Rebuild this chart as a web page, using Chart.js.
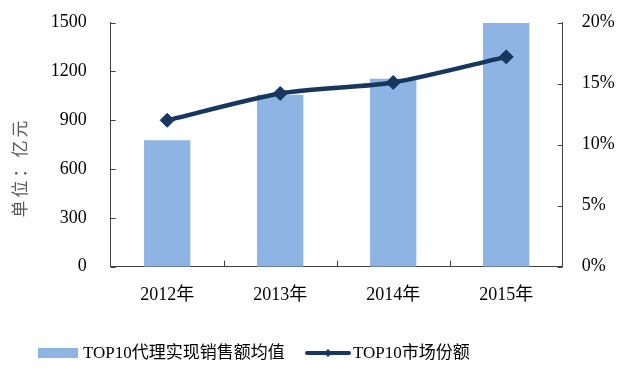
<!DOCTYPE html>
<html>
<head>
<meta charset="utf-8">
<script src="https://cdn.jsdelivr.net/npm/chart.js@4"></script>
<style>
html,body{margin:0;padding:0;background:#fff;}
#wrap{width:643px;height:379px;position:relative;}
</style>
</head>
<body>
<div id="wrap"><canvas id="c" width="643" height="379"></canvas></div>
<script>
const categories = ['2012年', '2013年', '2014年', '2015年'];
const salesAvg = [777, 1057, 1156, 1500];
const marketShare = [12.0, 14.2, 15.1, 17.2];
const leftTicks = [0, 300, 600, 900, 1200, 1500];
const rightTicks = [0, 5, 10, 15, 20];
const barLabel = 'TOP10代理实现销售额均值';
const lineLabel = 'TOP10市场份额';
const yTitle = '单位：亿元';

const FONT = "'Liberation Serif', 'Times New Roman', 'Noto Sans CJK SC', serif";
const BAR_COLOR = '#8EB4E3';
const LINE_COLOR = '#17375E';
const AXIS_COLOR = '#404040';

const decorPlugin = {
  id: 'decor',
  afterDraw(chart) {
    const ctx = chart.ctx;
    const ca = chart.chartArea;
    const x = chart.scales.x, y = chart.scales.y, y1 = chart.scales.y1;
    ctx.save();
    ctx.strokeStyle = AXIS_COLOR;
    ctx.lineWidth = 1;
    ctx.beginPath();
    leftTicks.forEach(v => {
      const py = Math.round(y.getPixelForValue(v)) + 0.5;
      ctx.moveTo(ca.left, py); ctx.lineTo(ca.left + 5, py);
    });
    rightTicks.forEach(v => {
      const py = Math.round(y1.getPixelForValue(v)) + 0.5;
      ctx.moveTo(ca.right, py); ctx.lineTo(ca.right - 5, py);
    });
    for (let i = 1; i < categories.length; i++) {
      const px = Math.round(x.getPixelForValue(i - 0.5)) + 0.5;
      ctx.moveTo(px, ca.bottom); ctx.lineTo(px, ca.bottom - 6);
    }
    ctx.stroke();

    // y title
    ctx.save();
    ctx.translate(22, 167.5);
    ctx.rotate(-Math.PI / 2);
    ctx.fillStyle = '#595959';
    ctx.font = "17px " + FONT;
    try { ctx.letterSpacing = '3px'; } catch (e) {}
    ctx.textAlign = 'center';
    ctx.textBaseline = 'middle';
    ctx.fillText(yTitle, 0, 0);
    ctx.restore();

    // legend
    const ly = 353;
    const ds = chart.data.datasets;
    ctx.font = "17px " + FONT;
    ctx.textBaseline = 'middle';
    ctx.textAlign = 'left';
    ctx.fillStyle = ds[1].backgroundColor;
    ctx.fillRect(38, ly - 5, 40, 10);
    ctx.fillStyle = '#000';
    ctx.fillText(ds[1].label, 83, ly + 1);

    ctx.strokeStyle = ds[0].borderColor;
    ctx.lineWidth = 4;
    ctx.lineCap = 'round';
    ctx.beginPath();
    ctx.moveTo(307, ly); ctx.lineTo(349, ly);
    ctx.stroke();
    ctx.fillStyle = ds[0].borderColor;
    ctx.beginPath();
    ctx.moveTo(328, ly - 4); ctx.lineTo(332, ly); ctx.lineTo(328, ly + 4); ctx.lineTo(324, ly);
    ctx.closePath(); ctx.fill();
    ctx.fillStyle = '#000';
    ctx.fillText(ds[0].label, 353, ly + 1);
    ctx.restore();
  }
};

new Chart(document.getElementById('c'), {
  type: 'bar',
  data: {
    labels: categories,
    datasets: [
      {
        type: 'line',
        label: lineLabel,
        data: marketShare,
        yAxisID: 'y1',
        borderColor: LINE_COLOR,
        backgroundColor: LINE_COLOR,
        borderWidth: 4.5,
        tension: 0.25,
        pointStyle: 'rectRot',
        pointRadius: 7,
        pointBackgroundColor: LINE_COLOR,
        pointBorderColor: LINE_COLOR,
        pointBorderWidth: 1,
        order: 0,
        clip: false
      },
      {
        type: 'bar',
        label: barLabel,
        data: salesAvg,
        yAxisID: 'y',
        backgroundColor: BAR_COLOR,
        borderWidth: 0,
        barPercentage: 0.41,
        categoryPercentage: 1,
        order: 1
      }
    ]
  },
  options: {
    responsive: false,
    animation: false,
    devicePixelRatio: 1,
    layout: { padding: { left: 0, right: 0, top: 22.7, bottom: 0 } },
    plugins: { legend: { display: false }, tooltip: { enabled: false } },
    scales: {
      x: {
        grid: { display: false, drawTicks: false },
        border: { display: true, color: AXIS_COLOR, width: 1 },
        ticks: { color: '#000', font: { size: 18, family: FONT }, padding: 18, maxRotation: 0 },
        afterFit(s) { s.height = 112.3; }
      },
      y: {
        position: 'left',
        min: 0, max: 1500,
        afterBuildTicks(s) { s.ticks = leftTicks.map(v => ({ value: v })); },
        grid: { display: false, drawTicks: false },
        border: { display: true, color: AXIS_COLOR, width: 1 },
        ticks: { color: '#000', font: { size: 18, family: FONT }, padding: 24, callback: v => String(v) },
        afterFit(s) { s.width = 110.7; s.paddingTop = 10; s.paddingBottom = 10; }
      },
      y1: {
        position: 'right',
        min: 0, max: 20,
        afterBuildTicks(s) { s.ticks = rightTicks.map(v => ({ value: v })); },
        grid: { display: false, drawTicks: false },
        border: { display: true, color: AXIS_COLOR, width: 1 },
        ticks: { color: '#000', font: { size: 18, family: FONT }, padding: 19, callback: v => v + '%' },
        afterFit(s) { s.width = 80.3; s.paddingTop = 10; s.paddingBottom = 10; }
      }
    }
  },
  plugins: [decorPlugin]
});
</script>
</body>
</html>
